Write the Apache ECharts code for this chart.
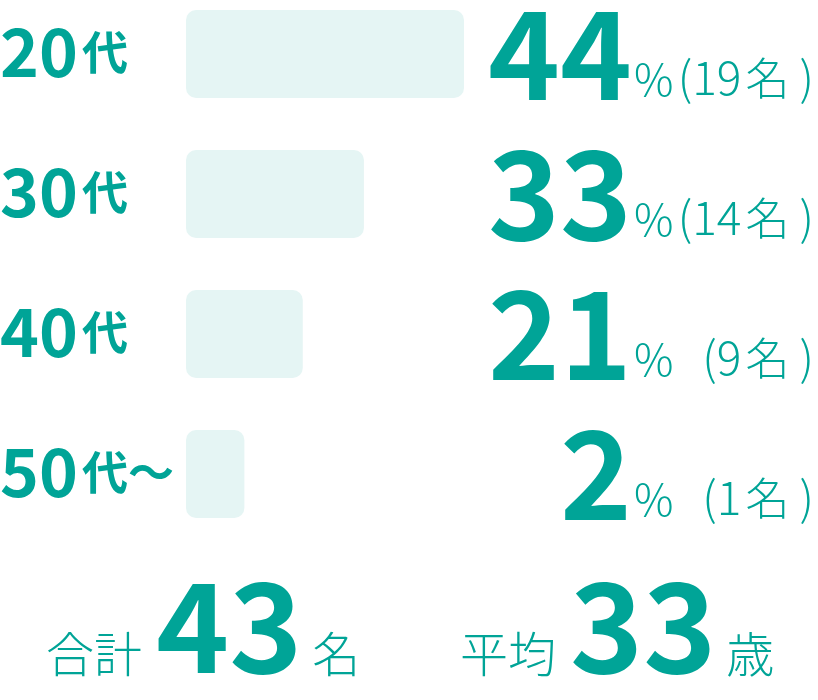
<!DOCTYPE html>
<html>
<head>
<meta charset="utf-8">
<script src="https://cdn.jsdelivr.net/npm/echarts@6/dist/echarts.min.js"></script>
<style>
    html, body { margin: 0; padding: 0; background: #fff; }
    #chart { width: 818px; height: 700px; }
</style>
</head>
<body>
<div id="chart"></div>
<script>
// Data
const categories = ['20代', '30代', '40代', '50代〜'];
const percents = [44, 33, 21, 2];
const counts = [19, 14, 9, 1];
// bar lengths as drawn (relative to the longest bar = 100)
const barLengths = [100, 64, 42, 21];
const totalCount = 43;
const averageAge = 33;

const teal = '#00a497';
const barColor = '#e5f5f4';
const font = '"Noto Sans CJK JP", "Noto Sans", sans-serif';

document.addEventListener('DOMContentLoaded', function() {
    const chart = echarts.init(document.getElementById('chart'), null, { renderer: 'canvas' });

    // rich styles for the summary line at the bottom
    const summaryRich = {
        lbl: { fontFamily: font, fontSize: 48, fontWeight: 300, color: teal, verticalAlign: 'bottom', padding: [0, 0, 10, 0] },
        num: { fontFamily: font, fontSize: 124, fontWeight: 'bold', color: teal, lineHeight: 124, verticalAlign: 'bottom', padding: [0, 10, 0, 14] }
    };

    const small = { fontFamily: font, fontSize: 46, fontWeight: 300, color: teal, align: 'right', verticalAlign: 'bottom' };

    const option = {
        animation: false,
        backgroundColor: '#fff',
        title: [
            {
                left: 46,
                top: 564,
                padding: 0,
                text: '{lbl|合計}{num|' + totalCount + '}{lbl|名}',
                textStyle: { rich: summaryRich }
            },
            {
                left: 460,
                top: 564,
                padding: 0,
                text: '{lbl|平均}{num|' + averageAge + '}{lbl|歳}',
                textStyle: { rich: summaryRich }
            }
        ],
        // labels sit outside the grid on purpose, so don't let the grid shrink
        grid: { left: 186, width: 278, top: 54, height: 420, outerBoundsMode: 'none' },
        xAxis: { type: 'value', min: 0, max: 100, show: false },
        yAxis: [
            {
                type: 'category',
                data: categories,
                inverse: true,
                boundaryGap: false,
                position: 'left',
                axisLine: { show: false },
                axisTick: { show: false },
                splitLine: { show: false },
                axisLabel: {
                    align: 'left',
                    margin: 186,
                    padding: [0, 0, 4, 0],
                    formatter: function(value) {
                        const m = value.match(/^(\d+)(.*)$/);
                        return '{num|' + m[1] + '}{unit|' + m[2] + '}';
                    },
                    rich: {
                        num: { fontFamily: font, fontSize: 66, fontWeight: 'bold', color: teal, lineHeight: 66, verticalAlign: 'bottom' },
                        unit: { fontFamily: font, fontSize: 46, fontWeight: 'bold', color: teal, verticalAlign: 'bottom', padding: [0, 0, 10, 4] }
                    }
                }
            },
            {
                type: 'category',
                data: categories,
                inverse: true,
                boundaryGap: false,
                position: 'right',
                axisLine: { show: false },
                axisTick: { show: false },
                splitLine: { show: false },
                axisLabel: {
                    align: 'left',
                    margin: 28,
                    formatter: function(value, index) {
                        return '{big|' + percents[index] + '}{pct|%}{cnt|(' + counts[index] + '}{nm|名}{cp|)}';
                    },
                    rich: {
                        big: { fontFamily: font, fontSize: 122, fontWeight: 'bold', color: teal, lineHeight: 122, width: 140, align: 'right', verticalAlign: 'bottom' },
                        pct: Object.assign({}, small, { fontSize: 44, padding: [0, 0, 14, 2] }),
                        cnt: Object.assign({}, small, { width: 68, padding: [0, 0, 14, 0] }),
                        nm: Object.assign({}, small, { fontSize: 44, padding: [0, 0, 15, 4] }),
                        cp: Object.assign({}, small, { padding: [0, 0, 14, 10] })
                    }
                }
            }
        ],
        series: [{
            type: 'bar',
            yAxisIndex: 0,
            data: barLengths,
            barWidth: 88,
            silent: true,
            itemStyle: { color: barColor, borderRadius: 10 }
        }]
    };

    chart.setOption(option);

    window.addEventListener('resize', function() {
        chart.resize();
    });
});
</script>
</body>
</html>
